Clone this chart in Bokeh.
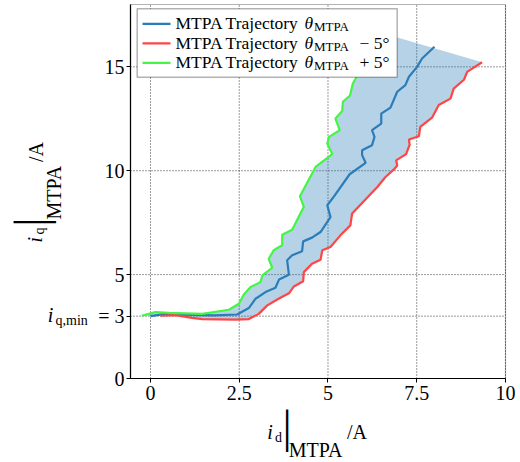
import math
from bokeh.plotting import figure
from bokeh.models import Range1d, FixedTicker, Label, LinearAxis, BoxAnnotation
from bokeh.embed import file_html
from bokeh.resources import INLINE

# ---------------- data ----------------
blue_x = [0.0, 0.38, 0.85, 1.78, 2.44, 2.77, 2.96, 3.24, 3.52, 3.62, 3.90, 3.85, 3.99, 4.27, 4.30,
          4.55, 4.79, 5.07, 4.98, 5.16, 5.61, 6.06, 5.96, 5.96, 6.24, 6.31, 6.24, 6.50, 6.50, 6.76,
          6.95, 7.18, 7.28, 7.51, 7.65, 8.00]
blue_y = [3.00, 3.10, 3.07, 3.04, 3.08, 3.39, 3.84, 4.16, 4.37, 4.76, 4.99, 5.69, 5.93, 6.12, 6.60,
          6.78, 7.05, 7.77, 8.34, 8.74, 9.83, 10.38, 10.75, 10.99, 11.23, 11.63, 11.95, 12.27, 12.75, 13.04,
          13.80, 14.12, 14.52, 15.00, 15.40, 15.97]

red_x = [0.28, 0.70, 1.17, 1.46, 2.39, 2.77, 3.05, 3.29, 3.62, 3.90, 4.04, 4.30, 4.32, 4.55, 4.79,
         4.84, 5.07, 5.35, 5.63, 5.68, 6.39, 6.62, 6.85, 6.95, 6.92, 7.20, 7.30, 7.28, 7.56, 7.60,
         7.93, 8.12, 8.45, 8.54, 8.83, 8.92, 9.34]
red_y = [3.02, 3.05, 2.92, 2.86, 2.83, 2.86, 3.11, 3.52, 3.85, 4.10, 4.43, 4.68, 5.12, 5.52, 5.71,
         6.17, 6.33, 6.89, 7.37, 7.94, 9.22, 9.70, 10.05, 10.25, 10.50, 10.80, 11.25, 11.50, 11.66, 12.11,
         12.55, 13.16, 13.47, 13.95, 14.38, 14.76, 15.22]

green_x = [-0.25, 0.14, 0.52, 1.46, 2.21, 2.49, 2.63, 2.82, 3.10, 3.15, 3.43, 3.33, 3.47, 3.71, 3.71,
           3.99, 4.32, 4.21, 4.65, 5.12, 4.98, 5.03, 5.33, 5.21, 5.40, 5.42, 5.62, 5.70, 5.82, 6.00,
           6.15, 6.35, 6.57]
green_y = [3.02, 3.20, 3.16, 3.11, 3.31, 3.60, 4.04, 4.40, 4.64, 4.96, 5.33, 5.76, 6.17, 6.41, 6.92,
           7.16, 8.26, 8.77, 10.18, 10.80, 11.31, 11.63, 11.95, 12.51, 12.87, 13.32, 13.62, 14.20, 14.56, 15.05,
           15.55, 16.05, 16.61]

x_ticks = [0, 2.5, 5, 7.5, 10]
x_tick_labels = ["0", "2.5", "5", "7.5", "10"]
y_ticks = [0, 3, 5, 10, 15]
y_tick_labels = ["0", "= 3", "5", "10", "15"]

series_colors = ["#2a7db8", "#ff4545", "#45f545"]
legend_text = "MTPA Trajectory"
legend_suffixes = ["", "\u2212 5\u00b0", "+ 5\u00b0"]

# ---------------- layout constants ----------------
FONT = "Liberation Serif"
MID = 0.3375                                          # baseline offset below text-box middle, in em
W, H = 520, 462
X0, X1, Y0, Y1 = -0.563, 10.0, 0.0, 18.0              # axes box in data units
FL, FB, FW, FH = 130, 378, 375, 374                   # axes box in canvas px (left, bottom, w, h)
PXX = FW / (X1 - X0)
PXY = FH / (Y1 - Y0)


def dx(cx):
    return X0 + (cx - FL) / PXX


def dy(cy):
    return Y0 + (FB - cy) / PXY


p = figure(width=W, height=H, min_border=0, x_range=Range1d(dx(0), dx(W)),
           y_range=Range1d(dy(H), dy(0)), x_axis_location=None, y_axis_location=None,
           output_backend="svg", toolbar_location=None, title=None)
p.background_fill_color = "white"
p.border_fill_color = "white"
p.outline_line_color = None
for g in p.grid:
    g.visible = False

# axes drawn at the box edges
xaxis = LinearAxis(fixed_location=Y0, bounds=(X0, X1))
yaxis = LinearAxis(fixed_location=X0, bounds=(Y0, Y1))
for ax, ticks, labels in ((xaxis, x_ticks, x_tick_labels), (yaxis, y_ticks, y_tick_labels)):
    ax.ticker = FixedTicker(ticks=ticks)
    ax.major_label_overrides = {t: l for t, l in zip(ticks, labels)}
    ax.major_label_text_font = FONT
    ax.major_label_text_font_size = "20px"
    ax.major_label_text_color = "black"
    ax.major_tick_in = 0
    ax.major_tick_out = 4
    ax.minor_tick_line_color = None
    ax.axis_line_color = "black"
    ax.axis_line_width = 1.2
    ax.major_tick_line_color = "black"
xaxis.major_label_standoff = 3
yaxis.major_label_standoff = 2
p.add_layout(xaxis, "below")
p.add_layout(yaxis, "left")

# dotted grid at the tick positions, limited to the axes box
p.segment(x0=x_ticks, y0=[Y0] * len(x_ticks), x1=x_ticks, y1=[Y1] * len(x_ticks),
          line_color="black", line_alpha=0.8, line_dash="1 2", line_width=1)
p.segment(x0=[X0] * len(y_ticks), y0=y_ticks, x1=[X1] * len(y_ticks), y1=y_ticks,
          line_color="black", line_alpha=0.8, line_dash="1 2", line_width=1)

# band between +5 and -5 trajectories
p.patch(green_x + red_x[::-1], green_y + red_y[::-1], fill_color="#1f77b4", fill_alpha=0.33,
        line_color=None)

p.line(blue_x, blue_y, line_color=series_colors[0], line_width=2.2)
p.line(red_x, red_y, line_color=series_colors[1], line_width=2.2)
p.line(green_x, green_y, line_color=series_colors[2], line_width=2.2)

# axes box
p.add_layout(BoxAnnotation(left=X0, right=X1, bottom=Y0, top=Y1, fill_color=None,
                           line_color="black", line_width=1.2))


def lab(text, cx, base, size, style="normal", align="left"):
    """Horizontal text; cx = left (or centre) x, base = baseline y, canvas px."""
    p.add_layout(Label(x=dx(cx), y=dy(base - MID * size), text=text, text_font=FONT,
                       text_font_size=f"{size}px", text_font_style=style, text_color="black",
                       text_align=align, text_baseline="middle"))


def rlab(text, cx, cy, size, style="normal"):
    """Text rotated 90 deg, anchored at its centre (canvas px)."""
    p.add_layout(Label(x=dx(cx), y=dy(cy), text=text, text_font=FONT,
                       text_font_size=f"{size}px", text_font_style=style, text_color="black",
                       angle=math.pi / 2, text_align="center", text_baseline="middle"))


# legend (box, swatches, texts)
p.add_layout(BoxAnnotation(left=dx(136.7), right=dx(396.7), top=dy(8.3), bottom=dy(76.7),
                           fill_color="white", fill_alpha=1.0, line_color="black",
                           line_width=1.5))
for i, (col, suf) in enumerate(zip(series_colors, legend_suffixes)):
    sy = 23.3 + 19.5 * i
    p.add_layout(BoxAnnotation(left=dx(142), right=dx(170), top=dy(sy - 1.1),
                               bottom=dy(sy + 1.1), fill_color=col, fill_alpha=1.0,
                               line_color=None))
    base = 28.2 + 19.8 * i
    lab(legend_text, 175, base, 17.5)
    lab("\u03b8", 304, base, 17.5, "italic")
    lab("MTPA", 313.5, base + 2, 13)
    if suf:
        lab(suf, 359, base, 17.5)

# y tick label i_{q,min}
lab("i", 47.3, 321.7, 20, "italic")
lab("q,min", 55, 324.5, 14)

# x axis label  i_d |_MTPA / A
lab("i", 266.7, 438.3, 20, "italic")
lab("d", 274.5, 441.5, 14)
lab("|", 286.7, 441.5, 46, align="center")
lab("MTPA", 288.3, 456, 20)
lab("/A", 346.5, 438.3, 20)

# y axis label (rotated, centre-anchored pieces)
rlab("i", 41 - MID * 20, 239.2, 20, "italic")
rlab("q", 44 - MID * 14, 230.5, 14)
rlab("|", 36.7 - 0.15 * 46, 221.7, 46)
rlab("MTPA", 60 - MID * 20, 192.2, 20)
rlab("/A", 42.3 - MID * 20, 151.5, 20)

open("out.html", "w").write(file_html(p, INLINE))
